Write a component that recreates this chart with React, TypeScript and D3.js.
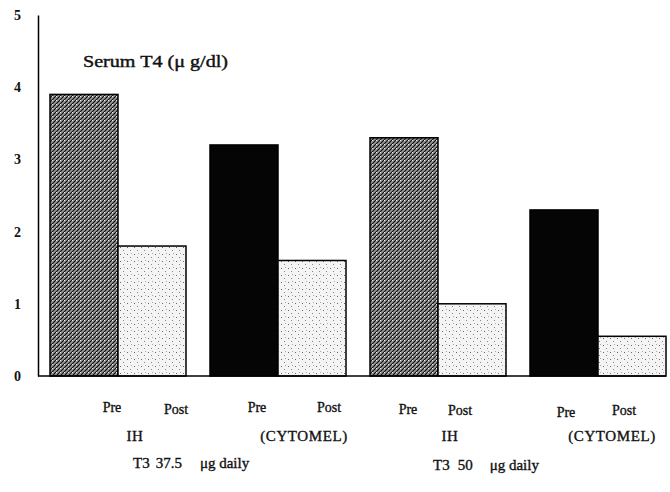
import { useEffect, useRef } from 'react';
import * as d3 from 'd3';

// values
const groups = ['IH 37.5', 'CYTOMEL 37.5', 'IH 50', 'CYTOMEL 50'];
const phases = ['Pre', 'Post'];
const preValues = [3.9, 3.2, 3.3, 2.3];
const postValues = [1.8, 1.6, 1.0, 0.55];
const preKinds = ['hatch', 'solid', 'hatch', 'solid'];
const yTicks = [0, 1, 2, 3, 4, 5];
const drugLabels = ['IH', '(CYTOMEL)', 'IH', '(CYTOMEL)'];
const doseLabels = [['T3', '37.5', 'μg daily'], ['T3', '50', 'μg daily']];
const title = 'Serum T4 (μ g/dl)';

const App = () => {
  const svgRef = useRef<SVGSVGElement>(null);

  useEffect(() => {
    const width = 670;
    const height = 492;
    const axisX = 38;

    const svg = d3.select(svgRef.current);
    svg.selectAll('*').remove();
    svg.attr('width', width).attr('height', height);

    const font = '"Liberation Serif", "DejaVu Serif", serif';

    // patterns that mimic the photocopied fills
    const defs = svg.append('defs');
    const dark = defs.append('pattern')
      .attr('id', 'darkFill')
      .attr('width', 4)
      .attr('height', 4)
      .attr('patternUnits', 'userSpaceOnUse');
    dark.append('rect').attr('width', 4).attr('height', 4).attr('fill', '#9a9a9a');
    dark.append('path').attr('d', 'M0,4 L4,0 M-1,1 L1,-1 M3,5 L5,3').attr('stroke', '#111').attr('stroke-width', 1.2);
    dark.append('rect').attr('x', 0).attr('y', 0).attr('width', 1).attr('height', 1).attr('fill', '#eee');

    const light = defs.append('pattern')
      .attr('id', 'lightFill')
      .attr('width', 7)
      .attr('height', 7)
      .attr('patternUnits', 'userSpaceOnUse');
    light.append('rect').attr('width', 7).attr('height', 7).attr('fill', '#f4f4f4');
    light.append('rect').attr('x', 1).attr('y', 2).attr('width', 1).attr('height', 1).attr('fill', '#666');
    light.append('rect').attr('x', 4).attr('y', 5).attr('width', 1).attr('height', 1).attr('fill', '#888');
    light.append('rect').attr('x', 5).attr('y', 1).attr('width', 1).attr('height', 1).attr('fill', '#aaa');

    // scales
    const x = d3.scaleBand()
      .domain(groups)
      .range([axisX, 678])
      .paddingInner(0.15)
      .paddingOuter(0.075);

    const xSub = d3.scaleBand()
      .domain(phases)
      .range([0, x.bandwidth()])
      .padding(0);

    const y = d3.scaleLinear()
      .domain([0, 5])
      .range([376, 15]);

    // bars
    const g = svg.append('g');
    groups.forEach((grp, i) => {
      const x0 = x(grp) ?? 0;
      g.append('rect')
        .attr('x', x0 + (xSub('Pre') ?? 0))
        .attr('y', y(preValues[i]))
        .attr('width', xSub.bandwidth())
        .attr('height', y(0) - y(preValues[i]))
        .attr('fill', preKinds[i] === 'solid' ? '#050505' : 'url(#darkFill)')
        .attr('stroke', '#000')
        .attr('stroke-width', 1.5);
      g.append('rect')
        .attr('x', x0 + (xSub('Post') ?? 0))
        .attr('y', y(postValues[i]))
        .attr('width', xSub.bandwidth())
        .attr('height', y(0) - y(postValues[i]))
        .attr('fill', 'url(#lightFill)')
        .attr('stroke', '#000')
        .attr('stroke-width', 1.5);
    });

    // axes
    const yAxis = d3.axisLeft(y).tickValues(yTicks).tickSize(0).tickPadding(17).tickFormat(d3.format('d'));
    const yg = svg.append('g')
      .attr('transform', `translate(${axisX},0)`)
      .call(yAxis);
    yg.select('.domain').attr('stroke', '#000').attr('stroke-width', 1.5);
    yg.selectAll('text')
      .attr('font-family', font)
      .attr('font-size', 14)
      .attr('font-weight', 'bold')
      .attr('fill', '#111');

    svg.append('line')
      .attr('x1', axisX)
      .attr('x2', x.range()[1] - 12)
      .attr('y1', y(0))
      .attr('y2', y(0))
      .attr('stroke', '#000')
      .attr('stroke-width', 1.5);

    // title
    svg.append('text')
      .attr('x', 83)
      .attr('y', 67)
      .attr('font-family', font)
      .attr('font-size', 16)
      .attr('textLength', 145)
      .attr('lengthAdjust', 'spacingAndGlyphs')
      .attr('fill', '#111')
      .attr('stroke', '#111')
      .attr('stroke-width', 0.4)
      .text(title);

    // Pre / Post labels, nudged like the scan
    const phaseNudge = [[28, 24], [13, 17], [4, -12], [2, -8]];
    const phaseDrop = [[0, 2], [0, 0], [2, 3], [5, 3]];
    const labels = svg.append('g')
      .attr('font-family', font)
      .attr('font-size', 14)
      .attr('fill', '#111')
      .attr('stroke', '#111')
      .attr('stroke-width', 0.35)
      .attr('text-anchor', 'middle');

    groups.forEach((grp, i) => {
      phases.forEach((ph, j) => {
        labels.append('text')
          .attr('x', (x(grp) ?? 0) + (xSub(ph) ?? 0) + xSub.bandwidth() / 2 + phaseNudge[i][j])
          .attr('y', 412 + phaseDrop[i][j])
          .text(ph);
      });
    });

    const drugNudge = [85, 94, 80, 82];
    groups.forEach((grp, i) => {
      labels.append('text')
        .attr('x', (x(grp) ?? 0) + drugNudge[i])
        .attr('y', 441)
        .attr('font-size', 15)
        .attr('letter-spacing', 0.6)
        .text(drugLabels[i]);
    });

    const doseNudge = [83, 63];
    const doseGap = [[6, 18], [8, 17]];
    doseLabels.forEach((d, i) => {
      const x0 = (x(groups[i * 2]) ?? 0) + doseNudge[i];
      const t = labels.append('text')
        .attr('x', x0)
        .attr('y', 468 + i * 2)
        .attr('font-size', 15)
        .attr('text-anchor', 'start');
      t.append('tspan').text(d[0]);
      t.append('tspan').attr('dx', doseGap[i][0]).text(d[1]);
      t.append('tspan').attr('dx', doseGap[i][1]).text(d[2]);
    });
  }, []);

  return (
    <svg ref={svgRef} style={{ position: 'absolute', left: 0, top: 0, background: '#fff' }}></svg>
  );
};

export default App;
